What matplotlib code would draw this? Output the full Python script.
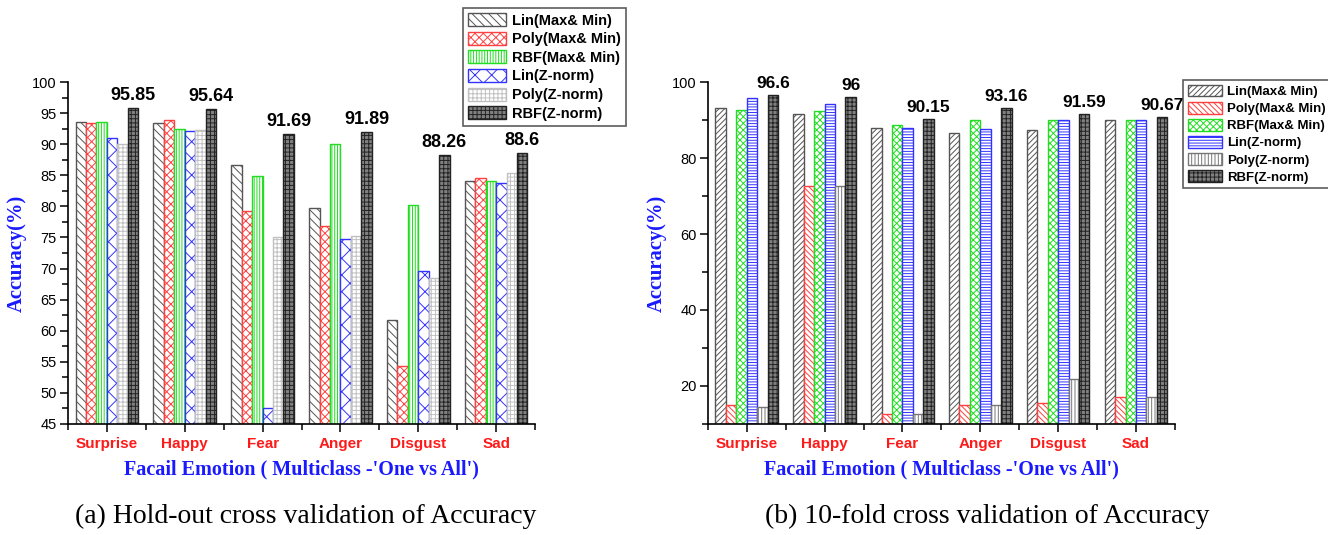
import numpy as np
import matplotlib
matplotlib.use('Agg')
import matplotlib.pyplot as plt
from matplotlib.ticker import MultipleLocator, FixedLocator

emotions = ['Surprise', 'Happy', 'Fear', 'Anger', 'Disgust', 'Sad']
methods = ['Lin(Max& Min)', 'Poly(Max& Min)', 'RBF(Max& Min)',
           'Lin(Z-norm)', 'Poly(Z-norm)', 'RBF(Z-norm)']

# (a) hold-out
hold_lin_mm = [93.5, 93.4, 86.7, 79.7, 61.7, 84.0]
hold_poly_mm = [93.4, 93.9, 79.3, 76.8, 54.3, 84.5]
hold_rbf_mm = [93.6, 92.4, 84.9, 90.0, 80.3, 84.1]
hold_lin_z = [91.0, 92.2, 47.6, 74.7, 69.6, 83.8]
hold_poly_z = [90.0, 92.3, 75.0, 75.3, 68.5, 85.3]
hold_rbf_z = [95.85, 95.64, 91.69, 91.89, 88.26, 88.6]

# (b) 10-fold
fold_lin_mm = [93.1, 91.7, 87.9, 86.7, 87.5, 90.0]
fold_poly_mm = [15.0, 72.6, 12.5, 15.1, 15.4, 17.0]
fold_rbf_mm = [92.7, 92.5, 88.8, 90.0, 90.0, 90.0]
fold_lin_z = [95.9, 94.3, 87.9, 87.6, 90.0, 90.0]
fold_poly_z = [14.5, 72.6, 12.5, 15.1, 21.8, 17.0]
fold_rbf_z = [96.6, 96.0, 90.15, 93.16, 91.59, 90.67]

plt.rcParams['hatch.linewidth'] = 0.7
sans = 'Liberation Sans'
serif = 'Liberation Serif'

# face, edge(=hatch colour), hatch
style_a = [
    ('white', '#555555', '\\\\\\\\'),
    ('white', '#ff4040', 'xxxx'),
    ('white', '#22dd22', '||||||'),
    ('white', '#3333ff', 'xx'),
    ('white', '#c0c0c0', '++++'),
    ('#808080', '#222222', '++++'),
]
style_b = [
    ('white', '#555555', '//////'),
    ('white', '#ff4040', '\\\\\\\\\\\\'),
    ('white', '#22dd22', 'xxxxx'),
    ('white', '#3333ff', '------'),
    ('white', '#777777', '|||||'),
    ('#808080', '#222222', '++++'),
]

fig = plt.figure(figsize=(13.28, 5.35), dpi=100)
ax1 = fig.add_axes([0.0512, 0.2075, 0.3517, 0.6392])
ax2 = fig.add_axes([0.533, 0.2075, 0.3517, 0.6392])

x = np.arange(1, len(emotions) + 1)
w = 0.134


def draw(ax, series, styles, ylim, major, minor, leg_pos, leg_size, val_size):
    handles = []
    for i, (vals, (fc, ec, h)) in enumerate(zip(series, styles)):
        b = ax.bar(x + (i - 2.5) * w, vals, w, bottom=0, color=fc, edgecolor=ec,
                   hatch=h, linewidth=1.0, label=methods[i])
        handles.append(b)
    for xi, v in zip(x, series[-1]):
        ax.text(xi + 2.5 * w, v + (ylim[1] - ylim[0]) * 0.012, f'{v:g}',
                ha='center', va='bottom', fontsize=val_size, fontweight='bold',
                family=sans)
    ax.set_xlim(0.5, len(emotions) + 0.5)
    ax.set_ylim(*ylim)
    ax.yaxis.set_major_locator(MultipleLocator(major))
    ax.yaxis.set_minor_locator(MultipleLocator(minor))
    ax.set_xticks(x)
    ax.xaxis.set_minor_locator(FixedLocator(np.arange(0.5, len(emotions) + 1, 1)))
    ax.set_xticklabels(emotions, color='#ff1a1a', fontweight='bold',
                       fontsize=11, family=sans)
    for lab in ax.get_yticklabels():
        lab.set_family(sans)
        lab.set_fontsize(10.5)
    ax.tick_params(which='major', direction='out', length=6, width=1.1)
    ax.tick_params(which='minor', direction='out', length=4, width=1.1)
    ax.tick_params(axis='y', pad=2)
    for s in ['top', 'right']:
        ax.spines[s].set_visible(False)
    for s in ['left', 'bottom']:
        ax.spines[s].set_linewidth(1.2)
    ax.set_ylabel('Accuracy(%)', color='#1a1aff', fontweight='bold',
                  fontsize=14.8, family=serif, labelpad=4)
    ax.set_xlabel("Facail Emotion ( Multiclass -'One vs All')", color='#1a1aff',
                  fontweight='bold', fontsize=14.5, family=serif, labelpad=6)
    leg = fig.legend(handles=handles, loc='upper left', bbox_to_anchor=leg_pos,
                     prop={'family': sans, 'weight': 'bold', 'size': leg_size},
                     frameon=True, fancybox=False, edgecolor='#333333',
                     handlelength=2.6, handleheight=1.0, handletextpad=0.4,
                     labelspacing=0.28, borderpad=0.35, borderaxespad=0)
    leg.get_frame().set_linewidth(1.2)


draw(ax1, [hold_lin_mm, hold_poly_mm, hold_rbf_mm, hold_lin_z, hold_poly_z, hold_rbf_z],
     style_a, (45, 100), 5, 2.5, (463 / 1328, 1 - 8 / 535), 10.5, 13)
draw(ax2, [fold_lin_mm, fold_poly_mm, fold_rbf_mm, fold_lin_z, fold_poly_z, fold_rbf_z],
     style_b, (10, 100), 20, 10, (1183 / 1328, 1 - 80 / 535), 9.5, 12.5)

fig.text(306 / 1328, 0.034, '(a) Hold-out cross validation of Accuracy',
         ha='center', va='center', fontsize=20, family=serif)
fig.text(987 / 1328, 0.034, '(b) 10-fold cross validation of Accuracy',
         ha='center', va='center', fontsize=20, family=serif)

fig.savefig('out.png', dpi=100)
